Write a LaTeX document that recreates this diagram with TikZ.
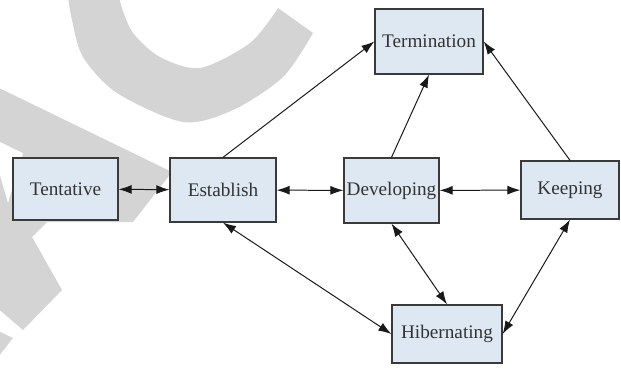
\documentclass[tikz,border=0pt]{standalone}
\usepackage{fontspec}
\setmainfont{Liberation Serif}
\usetikzlibrary{arrows.meta}
\definecolor{phasefill}{RGB}{221,232,243}
\definecolor{phaseline}{RGB}{58,58,58}
\definecolor{stampgray}{RGB}{212,212,212}
\tikzset{
  phase/.style={draw=phaseline, fill=phasefill, line width=1.1pt, inner sep=0pt,
    text=black!80, font=\fontsize{16.4}{19}\selectfont},
  oneway/.style={draw=black!90, line width=0.85pt, -{Latex[length=3.9mm,width=2.7mm]}},
  twoway/.style={oneway, {Latex[length=3.9mm,width=2.7mm]}-{Latex[length=3.9mm,width=2.7mm]}}
}

\begin{document}
\begin{tikzpicture}[x=0.03cm,y=-0.03cm]
    \useasboundingbox (0,0) rectangle (621,373);
    % watermark in the background
    \begin{scope}
      \clip (0,0) rectangle (621,373);
      \fill[stampgray] plot[smooth] coordinates {(67,-10) (72,20) (83,57) (117,93) (183,122) (233,110) (283,77) (313,33)}
        -- plot[smooth] coordinates {(278,8) (250,43) (200,68) (160,57) (133,33) (121,5) (119,-10)} -- cycle;
      \fill[stampgray] (-5,86) -- (172,172) -- (133,222) -- (47,222) -- (32,237) -- (62,290) -- (23,330) -- (-5,306) -- cycle;
      \fill[white] (-11,136.6) -- (23,153.3) -- (8,203) -- cycle;
      \fill[stampgray] (-5,329.5) -- (13,338) -- (-5,361) -- cycle;
    \end{scope}
    % phases
    \node[phase, minimum width=3.15cm, minimum height=1.86cm] (tent) at (65.5,189) {Tentative};
    \node[phase, minimum width=3.18cm, minimum height=1.92cm] (est) at (223,190) {Establish};
    \node[phase, minimum width=3.24cm, minimum height=1.95cm] (term) at (429,41.5) {Termination};
    \node[phase, minimum width=2.85cm, minimum height=1.95cm] (dev) at (391.5,190.5) {Developing};
    \node[phase, minimum width=2.94cm, minimum height=1.74cm] (keep) at (570,190) {Keeping};
    \node[phase, minimum width=3.3cm, minimum height=1.74cm] (hib) at (447,334) {Hibernating};
    % horizontal lines
    \draw[twoway] (tent) -- (est);
    \draw[twoway] (est) -- (dev);
    \draw[twoway] (dev) -- (keep);
    % up to termination
    \draw[oneway] (est.north) -- (term.west);
    \draw[oneway] (dev.north) -- (term.south);
    \draw[oneway] (keep.north) -- (term.east);
    % down to hibernating
    \draw[twoway] (est.south) -- (hib.west);
    \draw[twoway] (dev.south) -- (hib.north);
    \draw[twoway] (keep.south) -- (hib.east);
\end{tikzpicture}
\end{document}
